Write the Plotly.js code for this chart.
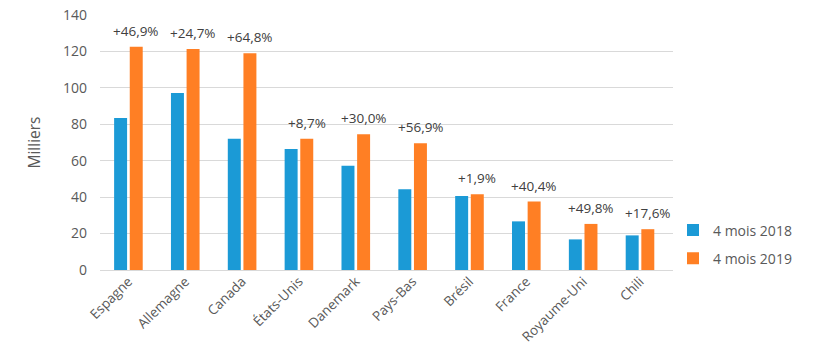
<!DOCTYPE html>
<html><head><meta charset="utf-8">
<script src="https://cdn.plot.ly/plotly-3.0.1.min.js"></script>
<style>html,body{margin:0;padding:0;background:#fff}#chart{width:820px;height:355px}</style>
</head><body><div id="chart"></div>
<script>
const categories = ["Espagne","Allemagne","Canada","États-Unis","Danemark","Pays-Bas","Brésil","France","Royaume-Uni","Chili"];
const values2018 = [83.5, 97.2, 72.1, 66.4, 57.3, 44.3, 40.6, 26.7, 16.8, 19.0];
const values2019 = [122.6, 121.4, 119.0, 72.1, 74.5, 69.6, 41.6, 37.6, 25.3, 22.4];
const growthLabels = ["+46,9%","+24,7%","+64,8%","+8,7%","+30,0%","+56,9%","+1,9%","+40,4%","+49,8%","+17,6%"];
const seriesNames = ["4 mois 2018","4 mois 2019"];
const yTicks = [0,20,40,60,80,100,120,140];

const font = "'Open Sans', 'Segoe UI', sans-serif";
const grey = "#595959";

const traces = [
  {type:"bar", name:seriesNames[0], x:categories, y:values2018, marker:{color:"#1B9AD6"}, legendgroup:"a", hoverinfo:"y"},
  {type:"bar", name:seriesNames[1], x:categories, y:values2019, marker:{color:"#FF7F24"}, legendgroup:"b", hoverinfo:"y"}
];

const annotations = categories.map((c, i) => ({
  x: c, y: values2019[i], xref:"x", yref:"y", text: growthLabels[i], showarrow:false,
  yanchor:"bottom", xanchor:"center", xshift:8, yshift:5,
  font:{family:font, size:13.5, color:"#404040"}
}));

const layout = {
  width:820, height:355,
  margin:{l:100, r:147, t:15, b:85},
  paper_bgcolor:"#fff", plot_bgcolor:"#fff",
  barmode:"group", bargap:0.45, bargroupgap:0.17,
  font:{family:font, color:grey, size:14},
  xaxis:{tickangle:-45, tickfont:{size:13.5, color:grey}, showgrid:false, showline:false, ticks:"", automargin:false},
  yaxis:{range:[0,140], tickvals:yTicks, showgrid:true, gridcolor:"#D9D9D9", gridwidth:1, zeroline:true, zerolinecolor:"#D9D9D9", zerolinewidth:1,
         tickfont:{size:14, color:grey}, ticklen:0, ticks:"", ticklabelstandoff:12,
         title:{text:"Milliers", font:{size:15.5, color:grey}, standoff:18}, automargin:false},
  annotations: annotations,
  showlegend:true,
  legend:{x:1.0, xanchor:"left", y:0.1, yanchor:"middle", font:{size:14, color:grey}, traceorder:"grouped", tracegroupgap:7, itemwidth:30, bgcolor:"rgba(0,0,0,0)"},
};

Plotly.newPlot("chart", traces, layout, {displayModeBar:false, staticPlot:true});
</script>
</body></html>
